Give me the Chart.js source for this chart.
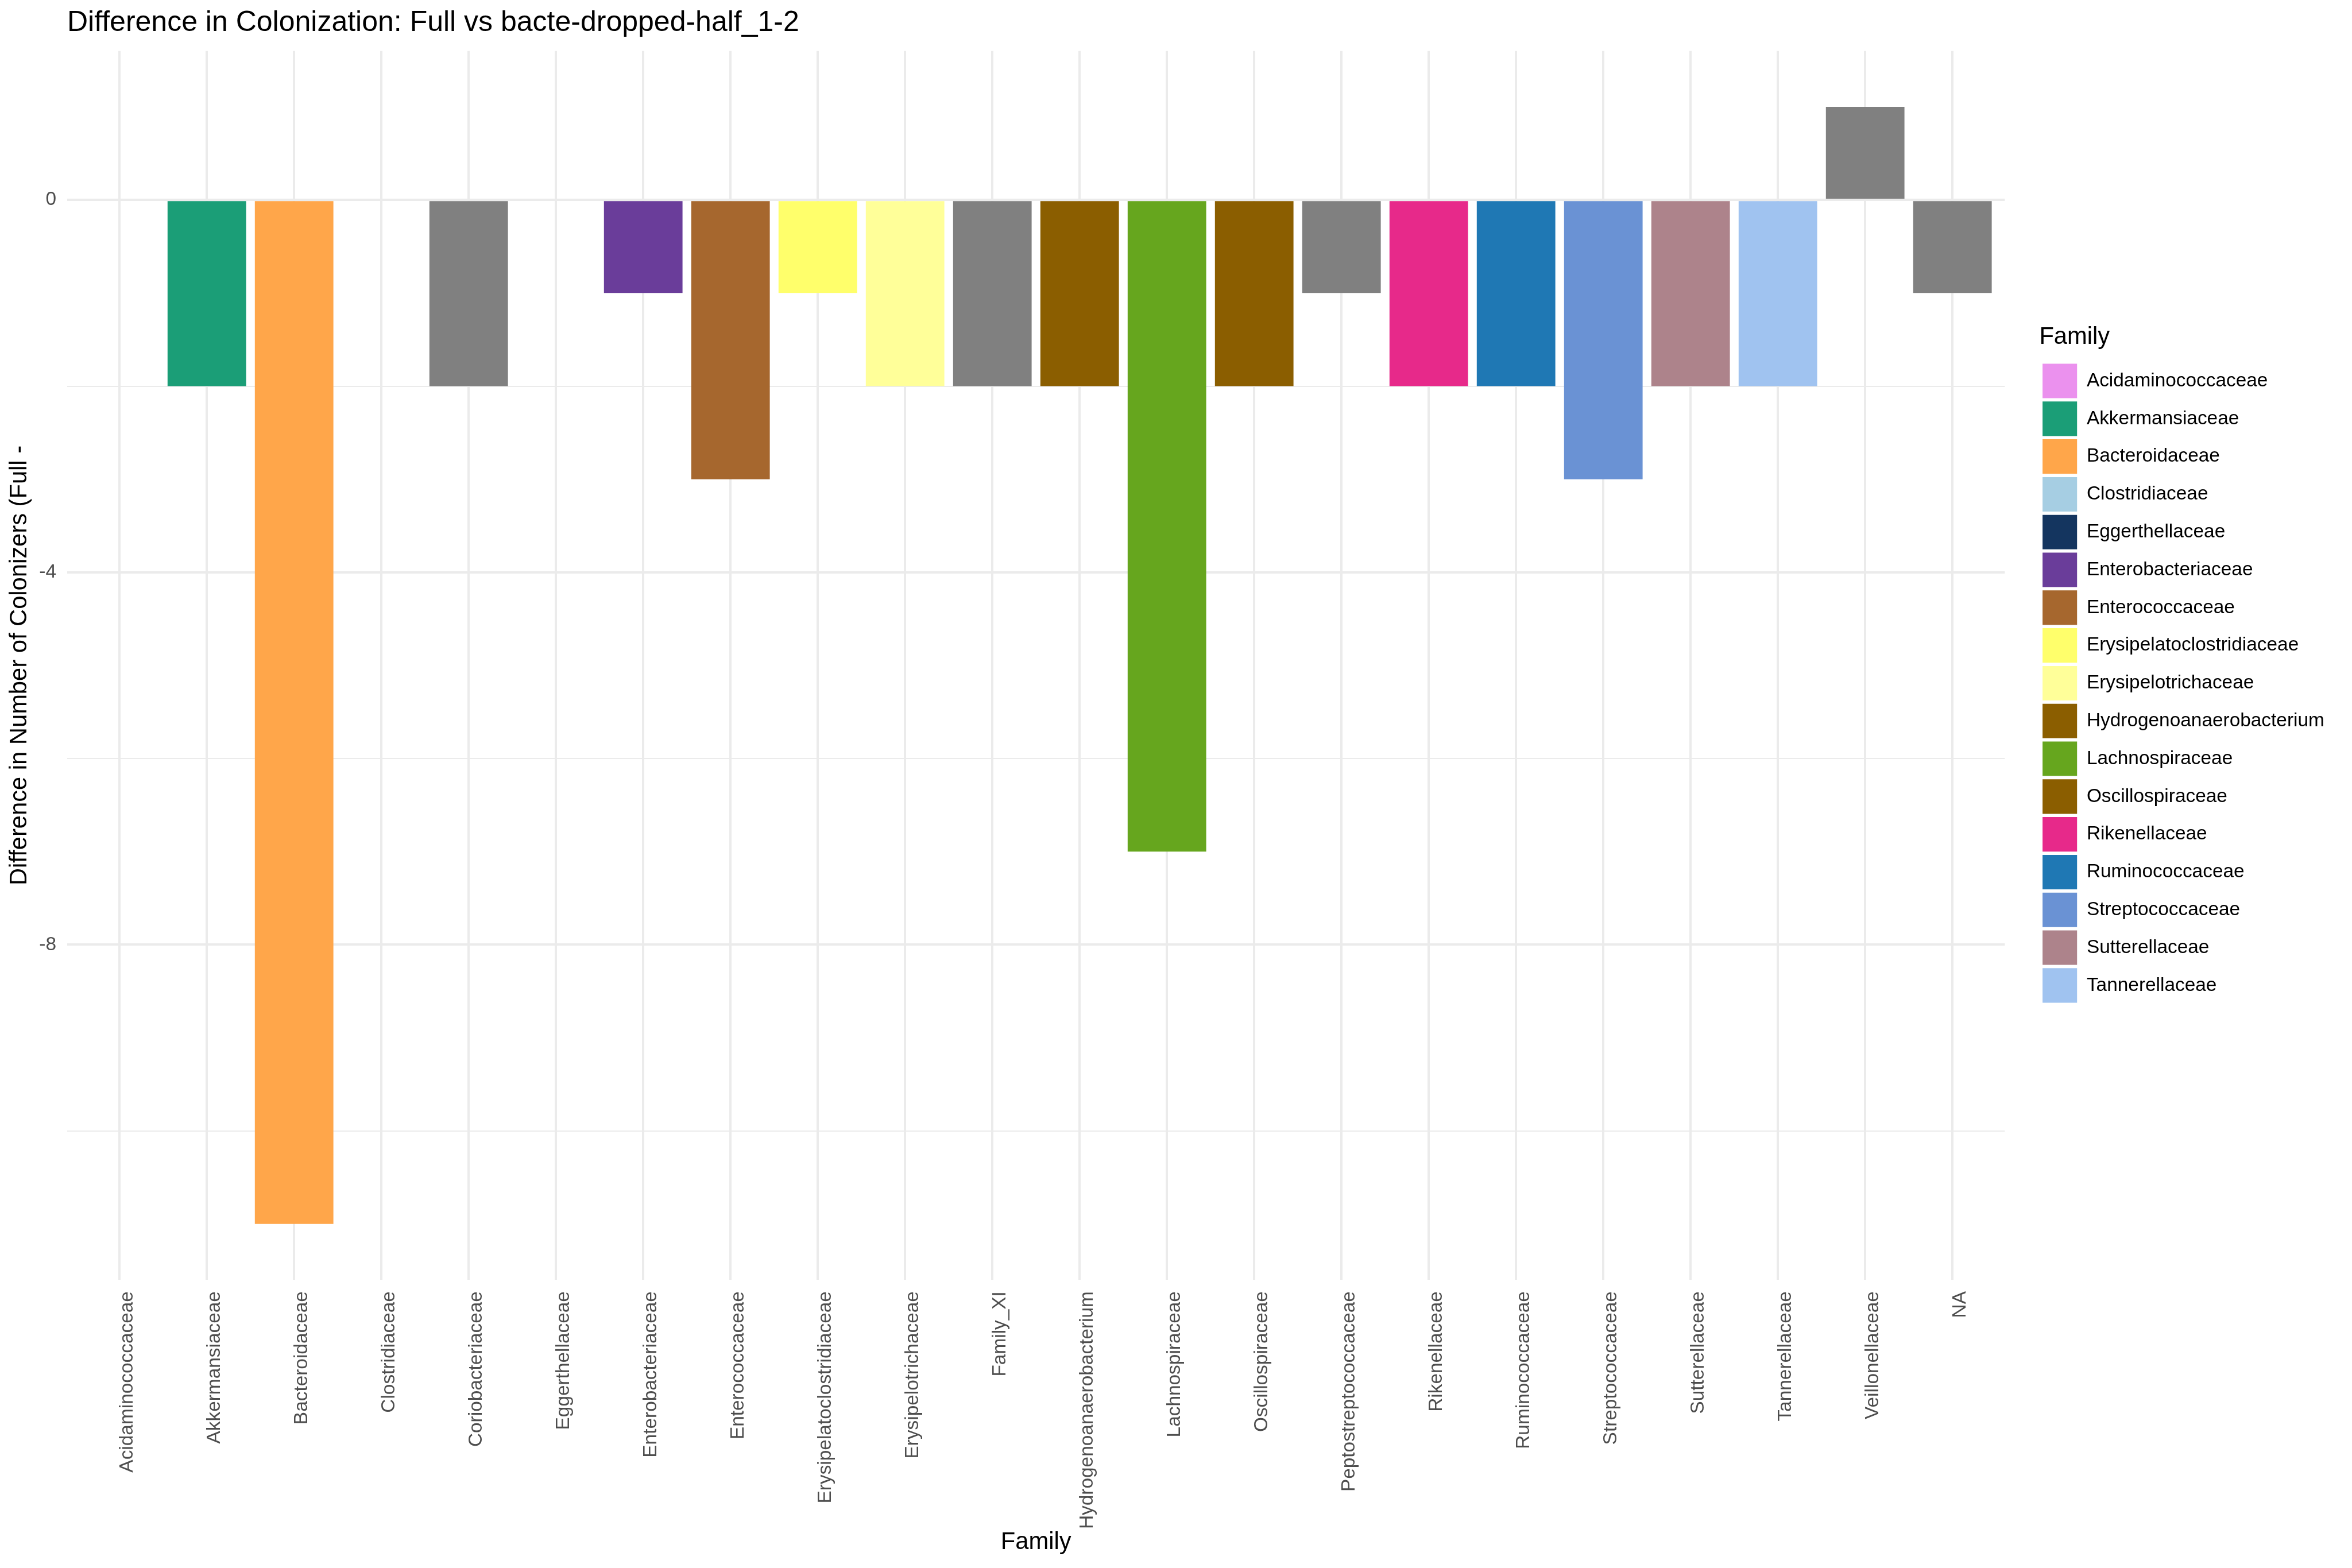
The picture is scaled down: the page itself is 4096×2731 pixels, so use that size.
<!DOCTYPE html>
<html>
<head>
<meta charset="utf-8">
<script src="https://cdn.jsdelivr.net/npm/chart.js@4.4.1/dist/chart.umd.min.js"></script>
<style>
  html, body { margin: 0; padding: 0; background: #ffffff; }
  #wrap { width: 4096px; height: 2731px; position: relative; }
</style>
</head>
<body>
<div id="wrap"><canvas id="c"></canvas></div>
<script>
// ---------------- data ----------------
const categories = [
  'Acidaminococcaceae', 'Akkermansiaceae', 'Bacteroidaceae', 'Clostridiaceae',
  'Coriobacteriaceae', 'Eggerthellaceae', 'Enterobacteriaceae', 'Enterococcaceae',
  'Erysipelatoclostridiaceae', 'Erysipelotrichaceae', 'Family_XI', 'Hydrogenoanaerobacterium',
  'Lachnospiraceae', 'Oscillospiraceae', 'Peptostreptococcaceae', 'Rikenellaceae',
  'Ruminococcaceae', 'Streptococcaceae', 'Sutterellaceae', 'Tannerellaceae',
  'Veillonellaceae', 'NA'
];
const values = [0, -2, -11, 0, -2, 0, -1, -3, -1, -2, -2, -2, -7, -2, -1, -2, -2, -3, -2, -2, 1, -1];

const legendFamilies = [
  'Acidaminococcaceae', 'Akkermansiaceae', 'Bacteroidaceae', 'Clostridiaceae',
  'Eggerthellaceae', 'Enterobacteriaceae', 'Enterococcaceae', 'Erysipelatoclostridiaceae',
  'Erysipelotrichaceae', 'Hydrogenoanaerobacterium', 'Lachnospiraceae', 'Oscillospiraceae',
  'Rikenellaceae', 'Ruminococcaceae', 'Streptococcaceae', 'Sutterellaceae', 'Tannerellaceae'
];
const legendColors = [
  '#EB91EE', '#1B9E77', '#FFA64A', '#A6CEE3',
  '#14355F', '#6A3D9A', '#A6672E', '#FFFF6B',
  '#FFFF99', '#8B5E00', '#66A61E', '#8B5E00',
  '#E7298A', '#1F78B4', '#6A92D4', '#AD838B', '#A0C3F0'
];
const otherColor = '#808080';

const yTicks = [-10, -8, -6, -4, -2, 0];
const yTickLabels = ['', '-8', '', '-4', '', '0'];

const titleText = 'Difference in Colonization: Full vs bacte-dropped-half_1-2';
const xTitleText = 'Family';
const yTitleText = 'Difference in Number of Colonizers (Full -';
const legendTitleText = 'Family';

// ---------------- layout constants (px in the 4096x2731 window) ----------------
const PLOT_LEFT = 117.0;
const PLOT_RIGHT = 3491.4;
const PLOT_BOTTOM = 2229.1;
const LEGEND_LEFT = 3551.4;
const LEGEND_TOP = 566.4;
const FONT = "'Liberation Sans', Arial, Helvetica, sans-serif";
const GRID = '#EBEBEB';

const barColors = categories.map(c => {
  const k = legendFamilies.indexOf(c);
  return k >= 0 ? legendColors[k] : otherColor;
});

Chart.defaults.font.family = FONT;

const layoutFix = {
  id: 'layoutFix',
  beforeLayout(chart) {
    const lg = chart.legend;
    if (lg && !lg._fitPatched) {
      const orig = lg.fit;
      lg.fit = function () {
        orig.call(this);
        this.width = chart.width - PLOT_RIGHT;
      };
      lg._fitPatched = true;
    }
  },
  afterLayout(chart) {
    const ca = chart.chartArea;
    const tb = chart.titleBlock;
    if (tb) {
      const w = tb.right - tb.left;
      tb.left = ca.left;
      tb.right = ca.left + w;
    }
    const lg = chart.legend;
    if (lg) {
      const w = lg.width;
      lg.left = LEGEND_LEFT;
      lg.right = LEGEND_LEFT + w;
      lg.top = LEGEND_TOP;
      lg.bottom = chart.height;
    }
  }
};

new Chart(document.getElementById('c'), {
  type: 'bar',
  data: {
    datasets: [{
      label: 'Difference',
      data: categories.map((c, i) => ({ x: i, y: values[i] })),
      backgroundColor: barColors,
      borderWidth: 0,
      categoryPercentage: 1.0,
      barPercentage: 0.9
    }]
  },
  options: {
    responsive: true,
    maintainAspectRatio: false,
    animation: false,
    devicePixelRatio: 1,
    layout: { padding: 0 },
    events: [],
    scales: {
      x: {
        type: 'linear',
        offset: false,
        bounds: 'data',
        min: -0.6,
        max: categories.length - 1 + 0.6,
        afterBuildTicks: (scale) => { scale.ticks = categories.map((c, i) => ({ value: i })); },
        afterFit: (scale) => { scale.height = 2731 - PLOT_BOTTOM; },
        grid: { display: true, color: GRID, lineWidth: 4.0, drawTicks: false, offset: false },
        border: { display: false },
        ticks: {
          autoSkip: false,
          minRotation: 90,
          maxRotation: 90,
          padding: 20,
          labelOffset: 13.3,
          color: '#4D4D4D',
          font: { size: 33.4 },
          callback: (v, i) => categories[i]
        },
        title: {
          display: true,
          text: xTitleText,
          color: '#000000',
          font: { size: 41.7, weight: 'normal' },
          padding: { top: 0, bottom: 19.3 }
        }
      },
      y: {
        type: 'linear',
        offset: false,
        bounds: 'data',
        min: -11.6,
        max: 1.6,
        afterBuildTicks: (scale) => { scale.ticks = yTicks.map(v => ({ value: v })); },
        afterFit: (scale) => { scale.width = PLOT_LEFT; },
        grid: {
          display: true,
          color: GRID,
          lineWidth: (ctx) => (yTickLabels[ctx.index] ? 4.0 : 2.0),
          drawTicks: false
        },
        border: { display: false },
        ticks: {
          padding: 19,
          color: '#4D4D4D',
          font: { size: 33.4 },
          callback: (v, i) => yTickLabels[i]
        },
        title: {
          display: true,
          text: yTitleText,
          color: '#000000',
          font: { size: 41.7, weight: 'normal' },
          padding: { top: 9.7, bottom: 0 }
        }
      }
    },
    plugins: {
      tooltip: { enabled: false },
      title: {
        display: true,
        text: titleText,
        align: 'start',
        color: '#000000',
        font: { size: 50, weight: 'normal' },
        padding: { top: 10.3, bottom: 18.5 }
      },
      legend: {
        display: true,
        position: 'right',
        align: 'start',
        onClick: null,
        title: {
          display: true,
          text: legendTitleText,
          position: 'start',
          color: '#000000',
          font: { size: 41.7, weight: 'normal' },
          padding: { top: 0, bottom: 11.36 }
        },
        labels: {
          boxWidth: 60.1,
          boxHeight: 60.1,
          padding: 5.7,
          color: '#000000',
          font: { size: 33.4 },
          generateLabels: () => legendFamilies.map((f, i) => ({
            text: f,
            fillStyle: legendColors[i],
            strokeStyle: 'rgba(0,0,0,0)',
            lineWidth: 0,
            hidden: false,
            index: i,
            datasetIndex: 0
          }))
        }
      }
    }
  },
  plugins: [layoutFix]
});
</script>
</body>
</html>
